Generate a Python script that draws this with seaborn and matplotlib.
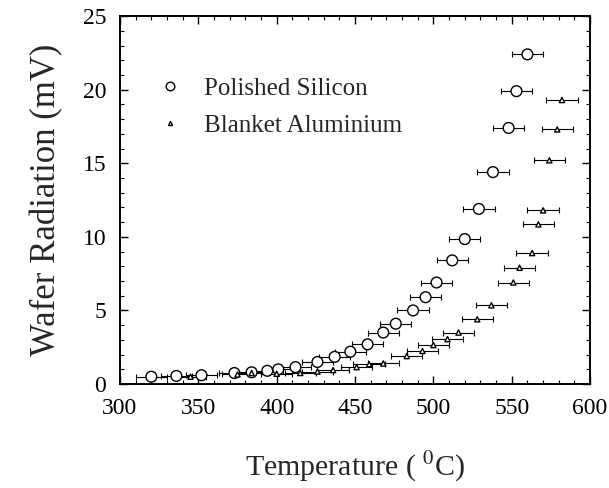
import numpy as np
import pandas as pd
import matplotlib
matplotlib.use("Agg")
import matplotlib.pyplot as plt
import seaborn as sns
from matplotlib.ticker import MultipleLocator

# Polished silicon (circles)
si_temp = [320, 336, 352, 373, 384, 394, 401, 412, 426, 437, 447, 458, 468, 476,
           487, 495, 502, 512, 520, 529, 538, 548, 553, 560]
si_mv = [0.5, 0.55, 0.6, 0.75, 0.8, 0.9, 1.0, 1.15, 1.5, 1.85, 2.2, 2.7, 3.5, 4.1,
         5.0, 5.9, 6.9, 8.4, 9.85, 11.9, 14.4, 17.4, 19.9, 22.4]

# Blanket aluminium (triangles)
al_temp = [345, 375, 384, 400, 415, 426, 436, 451, 459, 468, 483, 493, 500, 509,
           516, 528, 537, 551, 555, 563, 567, 570, 574, 579, 582]
al_mv = [0.5, 0.65, 0.75, 0.7, 0.75, 0.85, 0.95, 1.15, 1.35, 1.4, 1.9, 2.25, 2.65,
         3.05, 3.5, 4.4, 5.35, 6.9, 7.9, 8.9, 10.85, 11.8, 15.2, 17.3, 19.3]

temp_err = 10

df = pd.concat([
    pd.DataFrame({'Temp': si_temp, 'mV': si_mv, 'Wafer': 'Polished Silicon'}),
    pd.DataFrame({'Temp': al_temp, 'mV': al_mv, 'Wafer': 'Blanket Aluminium'}),
])

sns.set_theme(style="ticks")
plt.rcParams['font.family'] = ['Liberation Serif', 'DejaVu Serif']
plt.rcParams['mathtext.fontset'] = 'stix'

fig = plt.figure(figsize=(6.09, 4.88), dpi=100)
ax = fig.add_axes([0.197, 0.213, 0.772, 0.754])

ax.errorbar(si_temp, si_mv, xerr=temp_err, fmt='none', ecolor='black',
            elinewidth=0.8, capsize=2, capthick=0.8, zorder=2)
ax.errorbar(al_temp, al_mv, xerr=temp_err, fmt='none', ecolor='black',
            elinewidth=0.8, capsize=2, capthick=0.8, zorder=2)

sns.scatterplot(data=df, x='Temp', y='mV', style='Wafer',
                markers={'Polished Silicon': 'o', 'Blanket Aluminium': '^'},
                size='Wafer', sizes={'Polished Silicon': 60, 'Blanket Aluminium': 14},
                color='black', facecolor='white', edgecolor='black', linewidth=1.0,
                ax=ax, zorder=3)

ax.set_xlim(300, 600)
ax.set_ylim(0, 25)
ax.xaxis.set_major_locator(MultipleLocator(50))
ax.xaxis.set_minor_locator(MultipleLocator(10))
ax.yaxis.set_major_locator(MultipleLocator(5))
ax.yaxis.set_minor_locator(MultipleLocator(1))
ax.tick_params(which='both', direction='in', top=True, right=True, labelsize=17,
               colors='black')
ax.tick_params(which='major', length=6, width=1)
ax.tick_params(which='minor', length=3, width=0.8)
ax.tick_params(axis='x', which='major', pad=10)
ax.tick_params(axis='y', which='major', pad=10)
for s in ax.spines.values():
    s.set_linewidth(1.4)
    s.set_color('black')

ax.set_xlabel('Temperature ( $^{0}$C)', fontsize=21.5, labelpad=22)
ax.set_ylabel('Wafer Radiation (mV)', fontsize=25, labelpad=14)

handles, labels = ax.get_legend_handles_labels()
leg = ax.legend(handles, labels, loc='upper left', bbox_to_anchor=(0.005, 0.895),
                frameon=False, fontsize=18, handletextpad=0.35, labelspacing=0.6,
                markerscale=0.8)

fig.savefig('out.png', dpi=100)
